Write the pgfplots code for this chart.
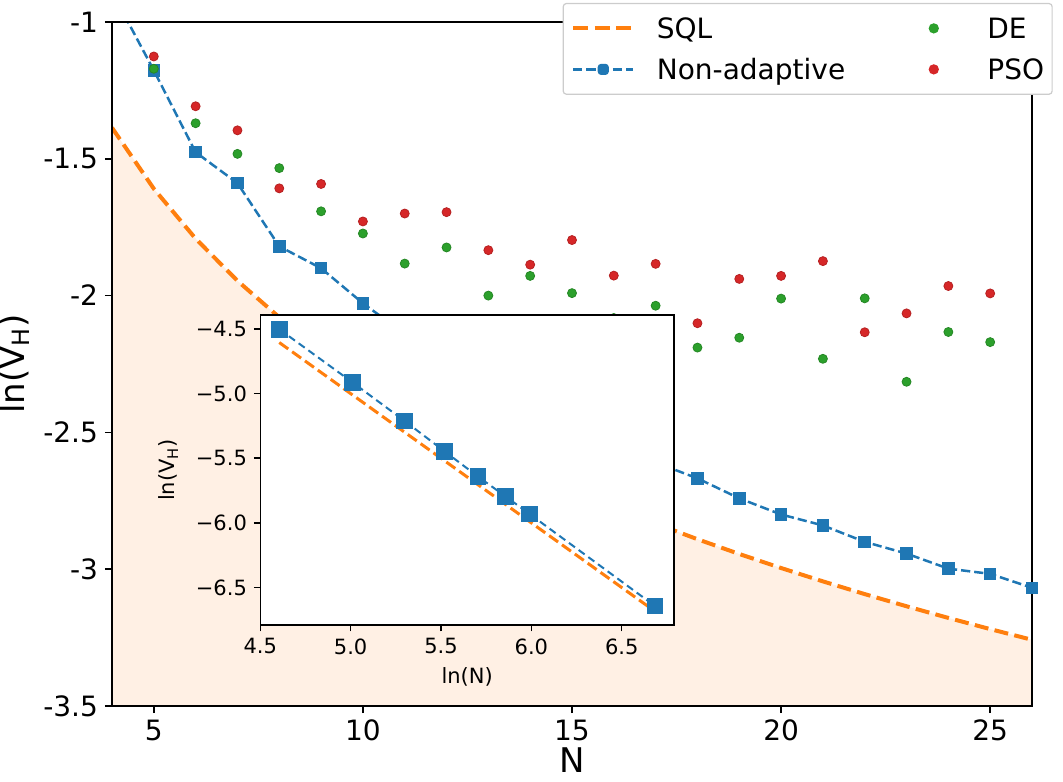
\documentclass[border=0pt]{standalone}
\usepackage{fontspec}
\setmainfont{DejaVu Sans}
\usepackage{pgfplots}
\pgfplotsset{compat=1.18}

\definecolor{tabblue}{HTML}{1F77B4}
\definecolor{taborange}{HTML}{FF7F0E}
\definecolor{tabgreen}{HTML}{2CA02C}
\definecolor{tabred}{HTML}{D62728}
\definecolor{sqlfill}{RGB}{255,240,228}

\newcommand{\ticksize}{\fontsize{14bp}{16bp}\selectfont}
\newcommand{\labsize}{\fontsize{17bp}{20bp}\selectfont}
\newcommand{\insetsize}{\fontsize{10.5bp}{12bp}\selectfont}

\begin{document}
\begin{tikzpicture}
\useasboundingbox (-56bp,-38bp) rectangle (475.5bp,353bp);

% main axis
\begin{axis}[
    name=main,
    scale only axis,
    width=460bp, height=342bp,
    xmin=4, xmax=26, ymin=-3.5, ymax=-1,
    xtick={5,10,15,20,25},
    xticklabels={5,10,15,20,25},
    ytick={-3.5,-3,-2.5,-2,-1.5,-1},
    yticklabels={-3.5,-3,-2.5,-2,-1.5,-1},
    tick pos=left,
    tick align=outside,
    major tick length=3.5bp,
    tick style={black, line width=0.8bp},
    axis line style={line width=0.8bp},
    tick label style={font=\ticksize},
    label style={font=\labsize},
    xlabel={N},
    xlabel style={yshift=3.5bp},
    ylabel={ln(V\textsubscript{H})},
    axis on top,
    legend columns=2,
    legend cell align=left,
    legend style={
        at={(1.0225,1.0278)}, anchor=north east,
        font=\ticksize,
        draw=black!20, line width=0.6bp, rounded corners=1.5bp,
        fill=white,
        inner xsep=4bp, inner ysep=6.5bp,
        row sep=8.7bp,
        nodes={inner sep=0pt, text height=11bp, text depth=0.8bp},
        /tikz/every even column/.append style={column sep=29bp},
    },
]
% region below the SQL
\addplot[draw=none, fill=sqlfill, forget plot] coordinates {
    (4,-1.3863) (5,-1.6094) (6,-1.7918) (7,-1.9459) (8,-2.0794) (9,-2.1972)
    (10,-2.3026) (11,-2.3979) (12,-2.4849) (13,-2.5649) (14,-2.6391) (15,-2.7081)
    (16,-2.7726) (17,-2.8332) (18,-2.8904) (19,-2.9444) (20,-2.9957) (21,-3.0445)
    (22,-3.0910) (23,-3.1355) (24,-3.1781) (25,-3.2189) (26,-3.2581)
    (26,-3.6) (4,-3.6)
} -- cycle;

% SQL
\addplot[taborange, line width=2bp, dash pattern=on 7bp off 3.2bp, forget plot] coordinates {
    (4,-1.3863) (5,-1.6094) (6,-1.7918) (7,-1.9459) (8,-2.0794) (9,-2.1972)
    (10,-2.3026) (11,-2.3979) (12,-2.4849) (13,-2.5649) (14,-2.6391) (15,-2.7081)
    (16,-2.7726) (17,-2.8332) (18,-2.8904) (19,-2.9444) (20,-2.9957) (21,-3.0445)
    (22,-3.0910) (23,-3.1355) (24,-3.1781) (25,-3.2189) (26,-3.2581)
};

% Non-adaptive
\addplot[tabblue, line width=1.25bp, dash pattern=on 4.6bp off 2bp,
    mark=square*, mark size=2.5bp, mark options={solid, fill=tabblue, draw=tabblue},
    forget plot] coordinates {
    (4,-0.89) (5,-1.177) (6,-1.476) (7,-1.589) (8,-1.820) (9,-1.900)
    (10,-2.028) (11,-2.14) (12,-2.23) (13,-2.32) (14,-2.40) (15,-2.47)
    (16,-2.54) (17,-2.61) (18,-2.668) (19,-2.741) (20,-2.800) (21,-2.840)
    (22,-2.900) (23,-2.943) (24,-2.998) (25,-3.017) (26,-3.068)
};

% DE
\addplot[only marks, mark=*, mark size=2.25bp,
    mark options={fill=tabgreen, draw=tabgreen!85!black, line width=0.4bp},
    forget plot] coordinates {
    (5,-1.171) (6,-1.370) (7,-1.482) (8,-1.534) (9,-1.692) (10,-1.773)
    (11,-1.883) (12,-1.824) (13,-2.000) (14,-1.928) (15,-1.991) (16,-2.082)
    (17,-2.037) (18,-2.190) (19,-2.154) (20,-2.011) (21,-2.231) (22,-2.010)
    (23,-2.315) (24,-2.133) (25,-2.170)
};

% PSO
\addplot[only marks, mark=*, mark size=2.25bp,
    mark options={fill=tabred, draw=tabred!85!black, line width=0.4bp},
    forget plot] coordinates {
    (5,-1.126) (6,-1.308) (7,-1.396) (8,-1.608) (9,-1.592) (10,-1.729)
    (11,-1.700) (12,-1.695) (13,-1.834) (14,-1.887) (15,-1.797) (16,-1.927)
    (17,-1.884) (18,-2.101) (19,-1.939) (20,-1.928) (21,-1.874) (22,-2.134)
    (23,-2.065) (24,-1.965) (25,-1.992)
};

% legend, row by row: SQL, DE / Non-adaptive, PSO
\addlegendimage{legend image code/.code={
    \draw[taborange, line width=2bp, dash pattern=on 7.5bp off 3.3bp] (0bp,0bp) -- (30bp,0bp);
    \path (41.5bp,0bp);}}
\addlegendentry{SQL}
\addlegendimage{legend image code/.code={
    \fill[tabgreen] (15bp,0bp) circle (2.25bp);
    \path (0bp,0bp) (41.5bp,0bp);}}
\addlegendentry{DE}
\addlegendimage{legend image code/.code={
    \draw[tabblue, line width=1.25bp, dash pattern=on 4.6bp off 2bp] (0bp,0bp) -- (30bp,0bp);
    \fill[tabblue] (12.5bp,-2.5bp) rectangle (17.5bp,2.5bp);
    \path (41.5bp,0bp);}}
\addlegendentry{Non-adaptive}
\addlegendimage{legend image code/.code={
    \fill[tabred] (15bp,0bp) circle (2.25bp);
    \path (0bp,0bp) (41.5bp,0bp);}}
\addlegendentry{PSO}
\end{axis}

% inset
\begin{axis}[
    at={(74.15bp,40.5bp)}, anchor=south west,
    scale only axis,
    width=206.9bp, height=155bp,
    xmin=4.5, xmax=6.79, ymin=-6.79, ymax=-4.392,
    xtick={4.5,5,5.5,6,6.5},
    xticklabels={4.5,5.0,5.5,6.0,6.5},
    ytick={-6.5,-6,-5.5,-5,-4.5},
    yticklabels={−6.5,−6.0,−5.5,−5.0,−4.5},
    tick pos=left,
    tick align=outside,
    major tick length=3.2bp,
    tick style={black, line width=0.8bp},
    axis line style={line width=0.8bp},
    tick label style={font=\insetsize},
    label style={font=\insetsize},
    xlabel={ln(N)},
    ylabel={ln(V\textsubscript{H})},
    ylabel style={yshift=2bp},
    axis background/.style={fill=white},
    axis on top,
]
\addplot[tabblue, line width=1bp, dash pattern=on 3.7bp off 2.3bp,
    mark=square*, mark size=3.65bp, mark options={solid, fill=tabblue, draw=tabblue}]
    coordinates {
    (4.605,-4.502) (5.011,-4.914) (5.298,-5.211) (5.521,-5.448)
    (5.704,-5.641) (5.858,-5.796) (5.991,-5.932) (6.685,-6.644)
};
\addplot[taborange, line width=1.5bp, dash pattern=on 5.5bp off 2.4bp] coordinates {
    (4.605,-4.605) (5.011,-5.011) (5.298,-5.298) (5.521,-5.521)
    (5.704,-5.704) (5.858,-5.858) (5.991,-5.991) (6.685,-6.685)
};
\end{axis}
\end{tikzpicture}
\end{document}
